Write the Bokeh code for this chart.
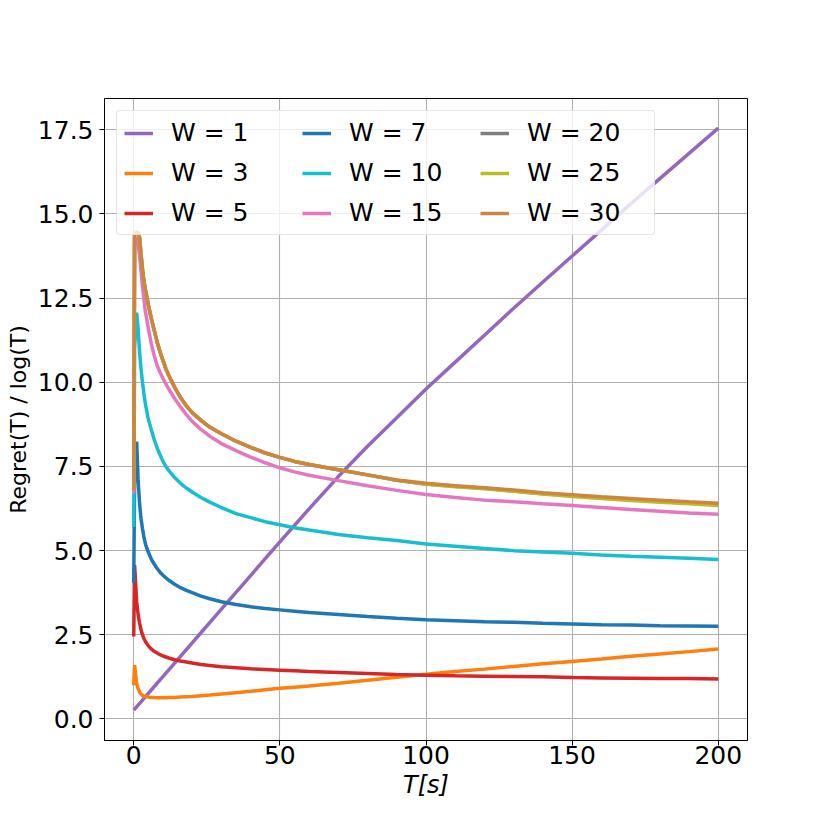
from bokeh.plotting import figure
from bokeh.models import Range1d, FixedTicker, PrintfTickFormatter
from bokeh.embed import file_html
from bokeh.resources import INLINE

# time axis (seconds)
T = [0, 0.3, 1, 1.5, 2, 2.5, 3, 3.5, 4, 5, 6, 7, 8, 9, 10, 11, 12, 14, 16, 18, 20, 23, 26, 30,
     35, 40, 45, 50, 55, 60, 70, 80, 90, 100, 110, 120, 130, 140, 150, 160, 170, 180, 190, 200]

W1 = [0.26, 0.29, 0.36, 0.41, 0.46, 0.51, 0.56, 0.61, 0.66, 0.76, 0.86, 0.96, 1.06, 1.16, 1.26,
      1.36, 1.46, 1.66, 1.86, 2.06, 2.26, 2.56, 2.86, 3.26, 3.76, 4.26, 4.76, 5.26, 5.75, 6.24,
      7.2, 8.1, 8.95, 9.8, 10.6, 11.4, 12.2, 12.98, 13.75, 14.52, 15.3, 16.05, 16.8, 17.55]
W3 = [1.0, 1.6, 1.05, 0.9, 0.8, 0.74, 0.7, 0.68, 0.665, 0.65, 0.64, 0.635, 0.63, 0.63, 0.63,
      0.632, 0.635, 0.64, 0.65, 0.66, 0.67, 0.69, 0.71, 0.74, 0.78, 0.82, 0.865, 0.91, 0.945, 0.98,
      1.06, 1.15, 1.24, 1.33, 1.41, 1.48, 1.56, 1.64, 1.71, 1.78, 1.86, 1.93, 2.0, 2.08]
W5 = [2.45, 4.57, 3.5, 3.1, 2.85, 2.65, 2.5, 2.39, 2.3, 2.17, 2.08, 2.01, 1.96, 1.91, 1.87,
      1.84, 1.81, 1.76, 1.72, 1.69, 1.66, 1.62, 1.59, 1.55, 1.52, 1.49, 1.47, 1.45, 1.43, 1.41,
      1.38, 1.35, 1.32, 1.3, 1.28, 1.27, 1.26, 1.25, 1.23, 1.22, 1.21, 1.2, 1.2, 1.19]
W7 = [4.03, 7.0, 8.24, 7.1, 6.4, 5.95, 5.65, 5.4, 5.2, 4.95, 4.75, 4.6, 4.47, 4.36, 4.27,
      4.19, 4.12, 4.0, 3.9, 3.82, 3.75, 3.65, 3.57, 3.48, 3.4, 3.33, 3.28, 3.24, 3.2, 3.16,
      3.1, 3.04, 2.99, 2.95, 2.92, 2.89, 2.87, 2.84, 2.82, 2.8, 2.79, 2.77, 2.76, 2.75]
W10 = [5.7, 11.0, 12.07, 11.6, 10.9, 10.4, 10.0, 9.65, 9.35, 8.9, 8.6, 8.3, 8.05, 7.85, 7.65,
       7.5, 7.38, 7.17, 7.0, 6.86, 6.74, 6.58, 6.44, 6.28, 6.1, 5.98, 5.86, 5.77, 5.68, 5.61,
       5.48, 5.38, 5.3, 5.2, 5.13, 5.06, 5.0, 4.96, 4.92, 4.87, 4.83, 4.8, 4.77, 4.74]
W15 = [6.7, 14.2, 14.3, 14.1, 13.75, 13.3, 12.85, 12.45, 12.1, 11.6, 11.15, 10.8, 10.5, 10.3, 10.12,
       9.95, 9.8, 9.52, 9.27, 9.04, 8.84, 8.6, 8.4, 8.18, 7.97, 7.78, 7.61, 7.46, 7.34, 7.24,
       7.08, 6.93, 6.79, 6.67, 6.58, 6.5, 6.45, 6.39, 6.34, 6.28, 6.22, 6.17, 6.12, 6.08]
W20 = [6.8, 14.4, 14.45, 14.45, 14.3, 13.8, 13.35, 13.0, 12.75, 12.3, 11.9, 11.55, 11.2, 10.9, 10.65,
       10.4, 10.2, 9.85, 9.55, 9.3, 9.1, 8.87, 8.67, 8.47, 8.25, 8.07, 7.9, 7.77, 7.65, 7.56,
       7.4, 7.25, 7.09, 6.98, 6.91, 6.85, 6.77, 6.69, 6.63, 6.57, 6.51, 6.46, 6.42, 6.38]
W25 = [6.8, 14.4, 14.45, 14.45, 14.3, 13.8, 13.35, 13.0, 12.75, 12.3, 11.9, 11.55, 11.2, 10.9, 10.65,
       10.4, 10.2, 9.85, 9.55, 9.3, 9.1, 8.87, 8.67, 8.47, 8.25, 8.07, 7.9, 7.77, 7.65, 7.56,
       7.4, 7.25, 7.09, 6.97, 6.9, 6.84, 6.76, 6.68, 6.61, 6.55, 6.49, 6.44, 6.39, 6.34]
W30 = [6.8, 14.4, 14.45, 14.45, 14.3, 13.8, 13.35, 13.0, 12.75, 12.3, 11.9, 11.55, 11.2, 10.9, 10.65,
       10.4, 10.2, 9.85, 9.55, 9.3, 9.1, 8.87, 8.67, 8.47, 8.25, 8.07, 7.9, 7.77, 7.65, 7.56,
       7.4, 7.25, 7.1, 7.0, 6.93, 6.87, 6.8, 6.72, 6.66, 6.6, 6.55, 6.5, 6.45, 6.41]

series = [W1, W3, W5, W7, W10, W15, W20, W25, W30]
labels = ["W = 1", "W = 3", "W = 5", "W = 7", "W = 10", "W = 15", "W = 20", "W = 25", "W = 30"]
colors = ["#9467bd", "#ff7f0e", "#d62728", "#1f77b4", "#17becf", "#e377c2",
          "#7f7f7f", "#bcbd22", "#cd853f"]

x_ticks = [0, 50, 100, 150, 200]
y_ticks = [0, 2.5, 5, 7.5, 10, 12.5, 15, 17.5]

FONT = "DejaVu Sans"
FS_TICK = "25px"
FS_LEG = "25px"

p = figure(width=822, height=822, output_backend="svg", toolbar_location=None,
           x_range=Range1d(-10, 210), y_range=Range1d(-0.64, 18.43),
           min_border_left=104, min_border_right=75, min_border_top=98, min_border_bottom=82)

p.background_fill_color = "white"
p.border_fill_color = "white"
p.outline_line_color = "black"
p.outline_line_width = 1
p.outline_line_alpha = 1

for ys, lab, col in zip(series, labels, colors):
    p.line(T, ys, line_color=col, line_width=3.5, legend_label=lab)

for ax in (p.xaxis[0], p.yaxis[0]):
    ax.axis_line_color = "black"
    ax.major_tick_line_color = "black"
    ax.major_tick_in = 0
    ax.major_tick_out = 5
    ax.minor_tick_line_color = None
    ax.major_label_text_font = FONT
    ax.major_label_text_font_size = FS_TICK
    ax.major_label_text_color = "black"
    ax.axis_label_text_font = FONT
    ax.axis_label_text_color = "black"

p.xaxis.ticker = FixedTicker(ticks=x_ticks)
p.yaxis.ticker = FixedTicker(ticks=y_ticks)
p.yaxis.formatter = PrintfTickFormatter(format="%.1f")
p.xaxis.major_label_standoff = 0
p.yaxis.major_label_standoff = 6
p.xaxis.axis_label = "T[s]"
p.xaxis.axis_label_text_font_style = "italic"
p.xaxis.axis_label_text_font_size = "24px"
p.xaxis.axis_label_standoff = 4
p.yaxis.axis_label = "Regret(T) / log(T)"
p.yaxis.axis_label_text_font_style = "normal"
p.yaxis.axis_label_text_font_size = "22px"
p.yaxis.axis_label_standoff = 4

p.grid.grid_line_color = "#b0b0b0"
p.grid.grid_line_width = 1.1
p.xgrid.ticker = FixedTicker(ticks=x_ticks)
p.ygrid.ticker = FixedTicker(ticks=y_ticks)

lg = p.legend[0]
lg.location = "top_left"
lg.ncols = 3
lg.margin = 12
lg.padding = 7
lg.spacing = 11
lg.glyph_width = 29
lg.glyph_height = 28
lg.label_height = 28
lg.label_width = 120
lg.label_standoff = 18
lg.label_text_font = FONT
lg.label_text_font_size = FS_LEG
lg.label_text_color = "black"
lg.border_line_color = "#cccccc"
lg.border_line_width = 1
lg.background_fill_color = "white"
lg.background_fill_alpha = 0.8
if "border_radius" in lg.properties():
    lg.border_radius = 4

open("out.html", "w").write(file_html(p, INLINE))
